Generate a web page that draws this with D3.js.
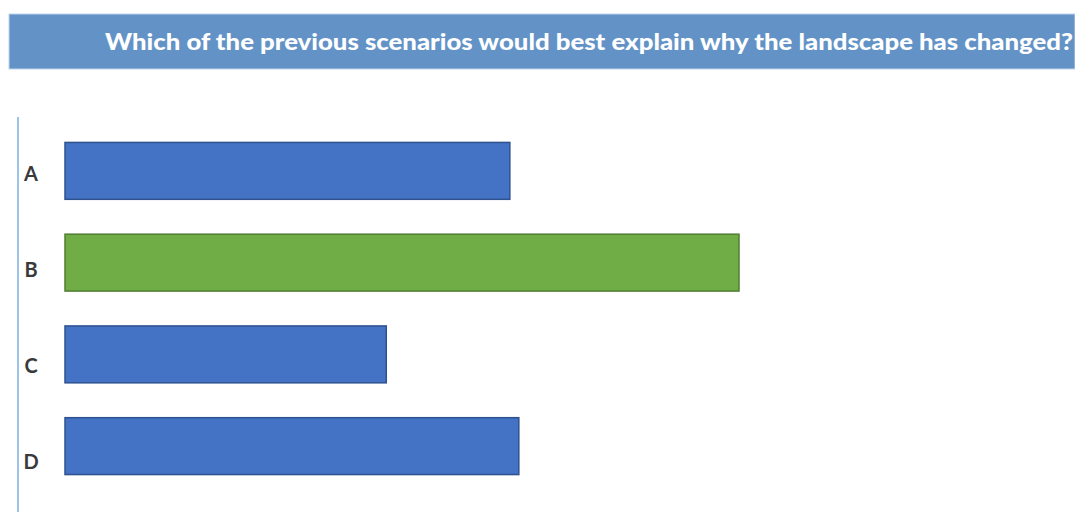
<!DOCTYPE html>
<html>
<head>
<meta charset="utf-8">
<script src="https://cdn.jsdelivr.net/npm/d3@7"></script>
<style>
  body { margin: 0; background: #fff; }
  svg { display: block; }
</style>
</head>
<body>
<svg width="1075" height="512"></svg>
<script>
// question title and answers
var title = "Which of the previous scenarios would best explain why the landscape has changed?";
var options = ["A", "B", "C", "D"];
var votes = [9.9, 15, 7.15, 10.1];
var barColors = ["#4472C4", "#70AD47", "#4472C4", "#4472C4"];
var barStrokes = ["#2F528F", "#507E32", "#2F528F", "#2F528F"];

var svg = d3.select("svg"),
    width = +svg.attr("width"),
    height = +svg.attr("height");

// title banner
svg.append("rect")
    .attr("x", 9).attr("y", 14)
    .attr("width", width - 9).attr("height", 55)
    .attr("fill", "#6393C6")
    .attr("stroke", "#BDD3EC")
    .attr("stroke-width", 1);

svg.append("text")
    .attr("x", 105).attr("y", 50)
    .attr("textLength", 968)
    .attr("lengthAdjust", "spacingAndGlyphs")
    .attr("fill", "#fff")
    .style("font-family", "Lato, 'Open Sans', sans-serif")
    .style("font-weight", "900")
    .style("font-size", "22px")
    .text(title);

var x = d3.scaleLinear()
    .domain([0, 15])
    .range([65, 739]);

var y = d3.scaleBand()
    .domain(options)
    .range([125, 492])
    .paddingInner(0.38)
    .paddingOuter(0.19);

// the category labels sit on a slightly wider spacing than the bars
var yLabel = d3.scalePoint()
    .domain(options)
    .range([174, 462]);

// vertical axis line
svg.append("line")
    .attr("x1", 18).attr("x2", 18)
    .attr("y1", 117).attr("y2", height)
    .attr("stroke", "#9DC3E6")
    .attr("stroke-width", 2);

svg.append("g")
    .selectAll("rect")
    .data(votes)
    .enter().append("rect")
      .attr("x", x(0))
      .attr("y", function(d, i) { return y(options[i]); })
      .attr("width", function(d) { return x(d) - x(0); })
      .attr("height", y.bandwidth())
      .attr("fill", function(d, i) { return barColors[i]; })
      .attr("stroke", function(d, i) { return barStrokes[i]; })
      .attr("stroke-width", 1.5);

svg.append("g")
    .selectAll("text")
    .data(options)
    .enter().append("text")
      .attr("x", 31)
      .attr("y", function(d) { return yLabel(d) + 7; })
      .attr("text-anchor", "middle")
      .attr("fill", "#3A3A3A")
      .style("font-family", "Lato, 'Open Sans', sans-serif")
      .style("font-weight", "bold")
      .style("font-size", "20px")
      .text(function(d) { return d; });
</script>
</body>
</html>
